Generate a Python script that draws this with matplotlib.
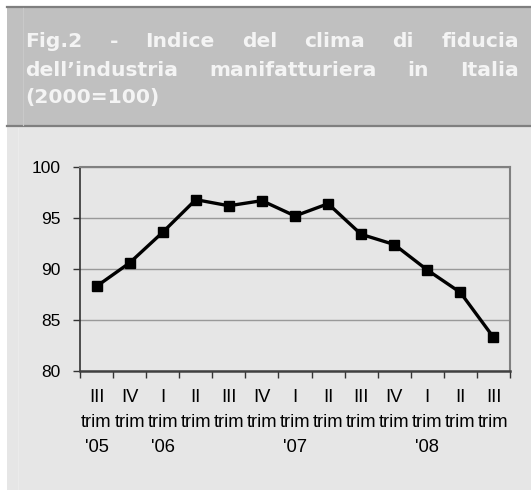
import matplotlib
matplotlib.use('Agg')
import matplotlib.pyplot as plt
from matplotlib.patches import Rectangle
from matplotlib.lines import Line2D

# data (2000=100)
quarters = ['III', 'IV', 'I', 'II', 'III', 'IV', 'I', 'II', 'III', 'IV', 'I', 'II', 'III']
years = ["'05", "", "'06", "", "", "", "'07", "", "", "", "'08", "", ""]
values = [88.3, 90.6, 93.6, 96.8, 96.2, 96.7, 95.2, 96.4, 93.4, 92.4, 89.9, 87.7, 83.3]

title_lines = [
    ['Fig.2', '-', 'Indice', 'del', 'clima', 'di', 'fiducia'],
    ["dell\u2019industria", 'manifatturiera', 'in', 'Italia'],
    ['(2000=100)'],
]

W, H = 531, 490
fig = plt.figure(figsize=(W / 100, H / 100), dpi=100)
fig.patch.set_facecolor('white')

def fx(px):
    return px / W

def fy(py):
    return 1 - py / H

# header box and chart box (behind the axes)
fig.patches.append(Rectangle((fx(7), fy(127)), fx(531) - fx(7), fy(7) - fy(127),
                             transform=fig.transFigure, facecolor='#c0c0c0', edgecolor='none', zorder=-5))
fig.patches.append(Rectangle((fx(7), fy(490)), fx(531) - fx(7), fy(127) - fy(490),
                             transform=fig.transFigure, facecolor='#e6e6e6', edgecolor='none', zorder=-5))
fig.lines.append(Line2D([fx(7), 1], [fy(7), fy(7)], transform=fig.transFigure, color='#7f7f7f', lw=1.6, zorder=-4))
fig.lines.append(Line2D([fx(7), 1], [fy(126), fy(126)], transform=fig.transFigure, color='#7f7f7f', lw=1.6, zorder=-4))
fig.lines.append(Line2D([fx(22.5), fx(22.5)], [fy(8), fy(125)], transform=fig.transFigure, color='#c9c9c9', lw=0.8, zorder=-4))
fig.lines.append(Line2D([fx(18), fx(18)], [fy(128), fy(490)], transform=fig.transFigure, color='#ebebeb', lw=0.8, zorder=-4))

# title, justified like the original
renderer = fig.canvas.get_renderer()
baselines = [47, 76.5, 103]
x0, x1 = 25, 519
for words, yb in zip(title_lines, baselines):
    texts = [fig.text(0, fy(yb), w, fontsize=14.6, fontweight='bold', color='#f4f4f4',
                      family='DejaVu Sans', va='baseline', ha='left') for w in words]
    widths = [t.get_window_extent(renderer).width for t in texts]
    gap = (x1 - x0 - sum(widths)) / (len(words) - 1) if len(words) > 1 else 0
    x = x0
    for t, w in zip(texts, widths):
        t.set_x(fx(x))
        x += w + gap

# chart
ax = fig.add_axes([fx(80), fy(371), fx(510) - fx(80), fy(167) - fy(371)])
ax.set_zorder(1)
ax.set_facecolor('#e6e6e6')
pos = list(range(len(values)))
ax.plot(pos, values, color='black', lw=2.4, marker='s', markersize=6.7, zorder=3)

ax.set_xlim(-0.5, len(values) - 0.5)
ax.set_ylim(80, 100)
ax.set_yticks([80, 85, 90, 95, 100])
ax.yaxis.grid(True, color='#999999', lw=1)
ax.set_axisbelow(True)

labels = [f"{q}\ntrim\n{y}" for q, y in zip(quarters, years)]
ax.set_xticks(pos)
ax.set_xticklabels(labels, family='Liberation Sans', fontsize=13.2, linespacing=1.62)
ax.set_xticks([p - 0.5 for p in pos] + [len(values) - 0.5], minor=True)
ax.tick_params(axis='x', which='major', length=0, pad=13)
ax.tick_params(axis='x', which='minor', length=5, width=1, color='#333333', direction='out')
ax.tick_params(axis='y', length=5, width=1, color='#333333', pad=9, labelsize=12.5)
for lab in ax.get_yticklabels():
    lab.set_family('Liberation Sans')

for s in ['top', 'right']:
    ax.spines[s].set_color('#808080')
    ax.spines[s].set_linewidth(1.5)
ax.spines['left'].set_color('#333333')
ax.spines['left'].set_linewidth(1.2)
ax.spines['bottom'].set_color('#404040')
ax.spines['bottom'].set_linewidth(1.8)

fig.savefig('out.png', dpi=100)
